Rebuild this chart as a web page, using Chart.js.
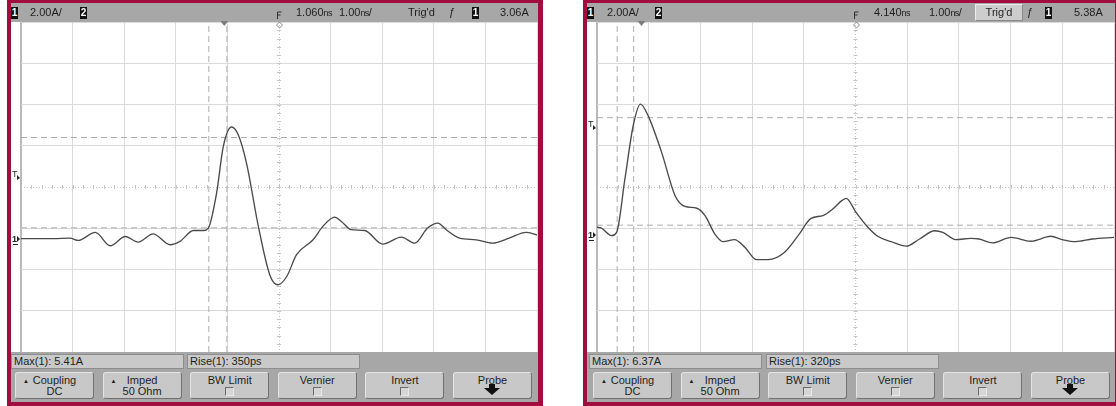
<!DOCTYPE html>
<html>
<head>
<meta charset="utf-8">
<script src="https://cdn.jsdelivr.net/npm/chart.js@4.4.0/dist/chart.umd.min.js"></script>
<style>
body { margin: 0; background: #fff; width: 1116px; height: 406px; position: relative; overflow: hidden;
       font-family: "Liberation Sans", Arial, sans-serif; color: #1e1e1e; }
.scope { position: absolute; top: 0; height: 406px; background: #a20d3f; }
.inner { position: absolute; left: 4px; top: 3px; bottom: 4px; background: #a7a7a7; overflow: hidden; }
.screen { position: absolute; left: 0; right: 0; top: 19px; height: 330px; background: #fff; }
.inner canvas { position: absolute; left: 0; top: 0; }
.bar span { position: absolute; top: 3px; font-size: 11px; line-height: 13px; white-space: nowrap; }
.bar .ns { position: static; font-size: 9px; letter-spacing: -0.6px; }
.bar .ch { top: 4px; width: 7px; height: 12px; background: #111; color: #fff; font-size: 10px; line-height: 12px;
           text-align: center; font-weight: bold; }
.bar .trigd { top: 1px; height: 15px; width: 46px; background: #cdcdcd; border: 1px solid; line-height: 15px;
              border-color: #ececec #8a8a8a #8a8a8a #ececec; text-align: center; }
.meas { position: absolute; top: 351px; height: 13px; width: 169px; background: #c9c9c9; border: 1px solid #8d8d8d;
        font-size: 11px; line-height: 13px; padding-left: 2px; white-space: nowrap; }
.key { position: absolute; top: 369px; width: 77px; height: 25px; background: #c8c8c8; border: 1px solid;
       border-color: #e4e4e4 #707070 #707070 #e4e4e4; border-radius: 3px; font-size: 11px; line-height: 11px;
       text-align: center; }
.key .l1 { position: absolute; left: 0; right: 0; top: 2px; }
.key .l2 { position: absolute; left: 0; right: 0; top: 13px; }
.key .up { position: absolute; left: 7px; top: 3px; font-size: 6px; }
.key .box { position: absolute; left: 34px; top: 14px; width: 7px; height: 7px; background: #d6d6d6; border: 1px solid;
            border-color: #6c6c6c #e8e8e8 #e8e8e8 #6c6c6c; }
.key .arrow { position: absolute; left: 30px; top: 15px; width: 0; height: 0; border-left: 8px solid transparent;
              border-right: 8px solid transparent; border-top: 7px solid #111; }
.key .arrow:before { content: ""; position: absolute; left: -3px; top: -11px; width: 6px; height: 5px; background: #111; }
</style>
</head>
<body>

<div class="scope" style="left:7px;width:536px">
  <div class="inner" id="innerL" style="width:527px">
    <div class="screen"></div>
    <canvas id="scopeL" width="527" height="349"></canvas>
    <div class="bar">
      <span class="ch" style="left:0">1</span>
      <span style="left:19px">2.00A/</span>
      <span class="ch" style="left:69px">2</span>
      <span style="left:285px">1.060<span class="ns">ns</span></span>
      <span style="left:328px">1.00<span class="ns">ns</span>/</span>
      <span style="left:397px">Trig'd</span>
      <span style="left:438px">ƒ</span>
      <span class="ch" style="left:461px">1</span>
      <span style="left:489px">3.06A</span>
    </div>
    <div class="meas" style="left:0px">Max(1): 5.41A</div>
    <div class="meas" style="left:176px">Rise(1): 350ps</div>
  </div>
</div>

<div class="scope" style="left:583px;width:533px">
  <div class="inner" id="innerR" style="width:528px">
    <div class="screen"></div>
    <canvas id="scopeR" width="528" height="349"></canvas>
    <div class="bar">
      <span class="ch" style="left:0">1</span>
      <span style="left:20px">2.00A/</span>
      <span class="ch" style="left:68px">2</span>
      <span style="left:287px">4.140<span class="ns">ns</span></span>
      <span style="left:342px">1.00<span class="ns">ns</span>/</span>
      <span class="trigd" style="left:388px">Trig'd</span>
      <span style="left:440px">ƒ</span>
      <span class="ch" style="left:458px">1</span>
      <span style="left:487px">5.38A</span>
    </div>
    <div class="meas" style="left:2px">Max(1): 6.37A</div>
    <div class="meas" style="left:179px">Rise(1): 320ps</div>
  </div>
</div>

<script>
// left capture: time in ns, current in A (2.00 A/div, 1.00 ns/div)
const timeL = [-3.94, -3.31, -2.99, -2.83, -2.50, -2.21, -1.92, -1.67, -1.38, -1.05, -0.86, -0.60, -0.41, -0.31,
               -0.15, -0.02, 0.14, 0.27, 0.43, 0.66, 0.88, 1.04, 1.21, 1.40, 1.72, 1.91, 2.14, 2.27, 2.46, 2.72,
               3.07, 3.43, 3.69, 3.94, 4.14, 4.30, 4.56, 4.88, 5.20, 5.52, 5.85, 6.06];
const ampL = [0.00, 0.00, 0.02, -0.09, 0.30, -0.35, 0.10, -0.17, 0.23, -0.30, -0.14, 0.39, 0.39, 0.51,
              2.20, 4.46, 5.41, 5.03, 3.66, 0.59, -1.75, -2.24, -1.84, -0.78, -0.06, 0.59, 1.04, 0.83, 0.43, 0.39,
              -0.27, 0.07, -0.22, 0.51, 0.75, 0.43, 0.02, -0.06, -0.22, 0.02, 0.30, 0.18];

// right capture
const timeR = [-0.86, -0.77, -0.58, -0.48, -0.32, -0.16, -0.02, 0.13, 0.39, 0.65, 0.84, 1.07, 1.23, 1.42, 1.58,
               1.80, 2.00, 2.22, 2.45, 2.77, 3.03, 3.28, 3.51, 3.70, 3.88, 3.96, 4.15, 4.38, 4.57, 4.83, 5.12,
               5.38, 5.67, 5.83, 6.08, 6.37, 6.53, 6.79, 7.15, 7.53, 7.92, 8.14, 8.40, 8.72, 9.14];
const ampR = [0.40, 0.35, -0.01, 0.15, 2.74, 5.32, 6.37, 5.80, 4.03, 1.93, 1.41, 1.32, 0.96, 0.07, -0.30,
              -0.20, -0.57, -1.17, -1.17, -0.81, -0.01, 0.83, 0.96, 1.28, 1.70, 1.80, 1.12, 0.40, -0.04, -0.30, -0.52,
              -0.17, 0.23, 0.15, -0.20, -0.14, -0.17, -0.36, -0.09, -0.28, -0.04, -0.20, -0.30, -0.17, -0.09];

// scope settings
const delayL = 1.060, delayR = 4.140;     // ns at screen centre
const centreL = 2.5, centreR = 2.35;      // A at screen centre
const trigL = 3.06, trigR = 5.38;         // trigger level, A
// rise-time cursors (10% / 90%)
const riseTimeL = [-0.30, 0.05], riseLevelL = [0.52, 4.90];
const riseTimeR = [-0.47, -0.15], riseLevelR = [0.50, 5.71];

const keys = [
  ['Coupling', 'DC', 'up'], ['Imped', '50 Ohm', 'up'], ['BW Limit', '', 'box'],
  ['Vernier', '', 'box'], ['Invert', '', 'box'], ['Probe', '', 'arrow']
];

function addKeys(id, start) {
  const el = document.getElementById(id);
  keys.forEach((k, i) => {
    const d = document.createElement('div');
    d.className = 'key';
    d.style.left = (start + i * 87.6) + 'px';
    let h = '<div class="l1">' + k[0] + '</div>';
    if (k[1]) h += '<div class="l2">' + k[1] + '</div>';
    if (k[2] == 'up') h += '<div class="up">▲</div>';
    if (k[2] == 'box') h += '<div class="box"></div>';
    if (k[2] == 'arrow') h += '<div class="arrow"></div>';
    d.innerHTML = h;
    el.appendChild(d);
  });
}
addKeys('innerL', 4);
addKeys('innerR', 6);

// markers the scope draws around the graticule
const scopeMarks = {
  id: 'scopeMarks',
  beforeDatasetsDraw(chart, args, o) {
    const {ctx, chartArea: a, scales: {x, y}} = chart;
    const cx = x.getPixelForValue(o.delay), cy = y.getPixelForValue(o.centre);
    const dx = (a.right - a.left) / 50, dy = (a.bottom - a.top) / 40;
    ctx.save();
    ctx.strokeStyle = '#c4c4c4';
    ctx.lineWidth = 1;
    ctx.beginPath();
    for (let i = 1; i < 50; i++) {
      const px = Math.round(a.left + i * dx) + 0.5;
      ctx.moveTo(px, cy - 2); ctx.lineTo(px, cy + 2);
    }
    for (let i = 1; i < 40; i++) {
      const py = Math.round(a.top + i * dy) + 0.5;
      ctx.moveTo(cx - 2, py); ctx.lineTo(cx + 2, py);
    }
    ctx.stroke();
    ctx.restore();
  },
  afterDraw(chart, args, o) {
    const {ctx, chartArea: a, scales: {x, y}} = chart;
    ctx.save();
    ctx.fillStyle = '#222';
    ctx.strokeStyle = '#222';
    ctx.font = 'bold 9px "Liberation Sans"';
    // ground reference
    const y0 = Math.round(y.getPixelForValue(0));
    ctx.fillText('1', 1, y0 + 3);
    ctx.beginPath(); ctx.moveTo(6, y0 - 3); ctx.lineTo(9, y0); ctx.lineTo(6, y0 + 3); ctx.fill();
    ctx.fillRect(2, y0 + 5, 5, 1);
    // trigger level
    const yt = Math.round(y.getPixelForValue(o.trig));
    ctx.font = '9px "Liberation Sans"';
    ctx.fillText('T', 1, yt + 2);
    ctx.beginPath(); ctx.moveTo(6, yt); ctx.lineTo(9, yt + 3); ctx.lineTo(6, yt + 5); ctx.fill();
    // trigger point
    const xt = x.getPixelForValue(0);
    ctx.fillStyle = '#7d7d7d';
    ctx.beginPath(); ctx.moveTo(xt - 4, a.top - 1); ctx.lineTo(xt + 4, a.top - 1); ctx.lineTo(xt, a.top + 4); ctx.fill();
    // delay reference at centre
    const xc = Math.round(x.getPixelForValue(o.delay)) + 0.5;
    ctx.strokeStyle = '#333';
    ctx.lineWidth = 1;
    ctx.beginPath();
    ctx.moveTo(xc + 2, 9); ctx.lineTo(xc - 2, 9); ctx.lineTo(xc - 2, 16);
    ctx.moveTo(xc - 2, 12); ctx.lineTo(xc + 1, 12);
    ctx.stroke();
    ctx.strokeStyle = '#8a8a8a';
    ctx.beginPath();
    ctx.moveTo(xc, a.top); ctx.lineTo(xc + 3, a.top + 3); ctx.lineTo(xc, a.top + 6); ctx.lineTo(xc - 3, a.top + 3);
    ctx.closePath(); ctx.stroke();
    ctx.restore();
  }
};

function scopeChart(id, time, amp, delay, centre, trig, tCur, aCur) {
  const xMin = delay - 5, xMax = delay + 5;
  const yMin = centre - 8, yMax = centre + 8;
  const gridX = [], gridY = [];
  for (let i = 0; i <= 10; i++) gridX.push(xMin + i);
  for (let i = 0; i <= 8; i++) gridY.push(yMin + 2 * i);

  const cursor = {borderColor: '#adadad', borderWidth: 1, borderDash: [6, 4], pointRadius: 0};
  const datasets = [{
    data: time.map((t, i) => ({x: t, y: amp[i]})),
    borderColor: '#4a4a4a',
    borderWidth: 1.35,
    pointRadius: 0,
    cubicInterpolationMode: 'monotone'
  }];
  tCur.forEach(t => datasets.push(Object.assign({data: [{x: t, y: yMin}, {x: t, y: yMax}]}, cursor)));
  aCur.forEach(v => datasets.push(Object.assign({data: [{x: xMin, y: v}, {x: xMax, y: v}]}, cursor)));

  return new Chart(document.getElementById(id), {
    type: 'line',
    data: {datasets: datasets},
    options: {
      responsive: false,
      animation: false,
      events: [],
      layout: {padding: {left: 10, top: 19, right: 1, bottom: 0}},
      plugins: {
        legend: {display: false},
        tooltip: {enabled: false},
        scopeMarks: {delay: delay, centre: centre, trig: trig}
      },
      scales: {
        x: {
          type: 'linear', min: xMin, max: xMax,
          afterBuildTicks: s => { s.ticks = gridX.map(v => ({value: v})); },
          ticks: {display: false},
          grid: {
            drawTicks: false,
            color: c => c.index == 0 ? '#b9b9b9' : (c.index == 5 ? '#c8c8c8' : '#dadada'),
            lineWidth: c => c.index == 0 ? 2 : 1
          },
          border: {display: false, dash: c => c.index == 5 ? [1, 2] : []}
        },
        y: {
          type: 'linear', min: yMin, max: yMax,
          afterBuildTicks: s => { s.ticks = gridY.map(v => ({value: v})); },
          ticks: {display: false},
          grid: {
            drawTicks: false,
            color: c => c.index == 4 ? '#c8c8c8' : '#dadada'
          },
          border: {display: false, dash: c => c.index == 4 ? [1, 2] : []}
        }
      }
    },
    plugins: [scopeMarks]
  });
}

scopeChart('scopeL', timeL, ampL, delayL, centreL, trigL, riseTimeL, riseLevelL);
scopeChart('scopeR', timeR, ampR, delayR, centreR, trigR, riseTimeR, riseLevelR);
</script>
</body>
</html>
